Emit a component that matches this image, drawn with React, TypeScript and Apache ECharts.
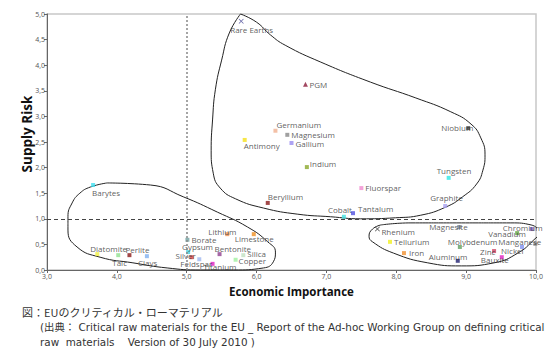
import React, { useEffect, useRef } from "react";
import * as echarts from "echarts";

// ---- data ----
const materials = [
  "Rare Earths", "PGM", "Germanium", "Magnesium", "Gallium", "Antimony", "Indium", "Niobium",
  "Tungsten", "Fluorspar", "Graphite", "Tantalum", "Cobalt", "Beryllium",
  "Barytes", "Diatomite", "Talc", "Perlite", "Clays", "Borate", "Gypsum", "Silver", "Feldspar",
  "Titanium", "Bentonite", "Lithium", "Limestone", "Silica", "Copper",
  "Rhenium", "Tellurium", "Iron", "Aluminum", "Magnesite", "Molybdenum", "Zinc", "Nickel",
  "Bauxite", "Manganese", "Vanadium", "Chromium",
];
const economicImportance = [
  57.8, 67.0, 62.7, 64.4, 65.0, 58.3, 67.2, 90.3,
  87.5, 75.0, 87.0, 73.8, 72.5, 61.6,
  36.6, 37.2, 40.2, 41.8, 44.3, 50.1, 50.2, 50.7, 51.8,
  53.7, 54.7, 55.8, 59.6, 58.1, 57.0,
  77.3, 79.1, 81.1, 88.8, 89.0, 89.1, 94.0, 98.0,
  95.1, 99.9, 97.3, 99.4,
];
const supplyRisk = [
  4.86, 3.63, 2.72, 2.64, 2.48, 2.54, 2.01, 2.77,
  1.80, 1.60, 1.25, 1.11, 1.04, 1.31,
  1.66, 0.31, 0.29, 0.29, 0.27, 0.59, 0.35, 0.25, 0.21,
  0.12, 0.31, 0.70, 0.70, 0.29, 0.20,
  0.80, 0.55, 0.33, 0.18, 0.84, 0.45, 0.37, 0.45,
  0.25, 0.51, 0.72, 0.80,
];

// hand-drawn grouping loops (data coordinates)
const loopCriticalX = [57.7, 60.0, 62.0, 64.1, 69.2, 76.3, 82.8, 87.8, 90.7, 92.1, 92.7, 92.4, 91.5, 89.5, 87.1, 83.5, 79.9, 74.9, 70.6, 65.9, 61.0, 57.0, 54.8, 53.8, 53.5, 53.7, 54.1, 55.0, 56.1, 57.7];
const loopCriticalY = [5.0, 4.84, 4.59, 4.39, 4.06, 3.67, 3.36, 3.09, 2.85, 2.58, 2.25, 1.95, 1.68, 1.43, 1.23, 1.07, 1.02, 1.0, 1.04, 1.09, 1.21, 1.39, 1.6, 1.89, 2.34, 2.93, 3.52, 4.1, 4.63, 5.0];
const loopLowImportanceX = [38.6, 44.8, 49.5, 54.4, 58.7, 61.6, 62.7, 62.4, 61.0, 56.7, 52.0, 47.2, 42.3, 37.6, 34.3, 33.0, 33.0, 33.6, 34.7, 36.2, 38.6];
const loopLowImportanceY = [1.70, 1.66, 1.43, 1.13, 0.84, 0.55, 0.35, 0.16, 0.04, 0.0, 0.0, 0.04, 0.14, 0.25, 0.45, 0.78, 1.04, 1.31, 1.50, 1.62, 1.70];
const loopLowRiskX = [77.8, 82.1, 89.3, 96.4, 99.3, 100.4, 99.7, 97.4, 94.0, 89.3, 84.5, 79.6, 76.6, 76.1, 76.6, 77.8];
const loopLowRiskY = [0.88, 0.92, 0.92, 0.92, 0.88, 0.72, 0.59, 0.33, 0.14, 0.08, 0.14, 0.33, 0.55, 0.66, 0.80, 0.88];

const thresholdEconomic = 50;
const thresholdRisk = 1.0;

const captionTitle = "図：EUのクリティカル・ローマテリアル";
const captionSource1 = "(出典： Critical raw materials for the EU _ Report of the Ad-hoc Working Group on defining critical";
const captionSource2 = "raw  materials    Version of 30 July 2010 )";

// ---- styles ----
const markerColors: Record<string, string> = {
  "Rare Earths": "#3b3b8f", PGM: "#8b1a3a", Germanium: "#f0b090", Magnesium: "#888888",
  Gallium: "#9a8cf0", Antimony: "#f5e01a", Indium: "#8aa82a", Niobium: "#333333",
  Tungsten: "#2ee6e6", Fluorspar: "#f08cd0", Graphite: "#a9a0f0", Tantalum: "#5050e0",
  Cobalt: "#40e0e0", Beryllium: "#8b1a1a", Barytes: "#40e0f0", Diatomite: "#f0f040",
  Talc: "#90e090", Perlite: "#8b1a1a", Clays: "#80b0f0", Borate: "#70a0a0",
  Gypsum: "#40d0e0", Silver: "#e04040", Feldspar: "#a0b8f0", Titanium: "#e020c0",
  Bentonite: "#904090", Lithium: "#f09050", Limestone: "#f09020", Silica: "#c0e0c0",
  Copper: "#a0f0a0", Rhenium: "#222222", Tellurium: "#f0f020", Iron: "#f09030",
  Aluminum: "#202070", Magnesite: "#8090a0", Molybdenum: "#60a060", Zinc: "#d04060",
  Nickel: "#8090f0", Bauxite: "#e020c0", Manganese: "#909090", Vanadium: "#60a040",
  Chromium: "#8060c0",
};
const labelOffsets: Record<string, [number, number]> = {
  "Rare Earths": [-11, 8], PGM: [4, 0], Germanium: [1, -6], Magnesium: [4, 0], Gallium: [4, 0],
  Antimony: [-1, 6], Indium: [3, -4], Niobium: [-27, -1], Tungsten: [-12, -7], Fluorspar: [4, -1],
  Graphite: [-15, -9], Tantalum: [5, -5], Cobalt: [-16, -7], Beryllium: [0, -6],
  Barytes: [-1, 7], Diatomite: [-7, -6], Talc: [-6, 7], Perlite: [-4, -6], Clays: [-9, 6],
  Borate: [4, 0], Gypsum: [-6, -6], Silver: [-16, -2], Feldspar: [-19, 4], Titanium: [-9, 3],
  Bentonite: [-5, -6], Lithium: [-19, -3], Limestone: [-19, 4], Silica: [4, -2], Copper: [3, 1],
  Rhenium: [4, 2], Tellurium: [4, 0], Iron: [5, -1], Aluminum: [-29, -4], Magnesite: [-30, 0],
  Molybdenum: [-12, -5], Zinc: [-14, 0], Nickel: [-21, 4], Bauxite: [-21, 2], Manganese: [-37, -2],
  Vanadium: [-29, 0], Chromium: [-29, -2],
};
const crossPath = "path://M0,1L1,0L5,4L9,0L10,1L6,5L10,9L9,10L5,6L1,10L0,9L4,5Z";
const specialSymbols: Record<string, string> = {
  "Rare Earths": crossPath, Rhenium: crossPath, PGM: "triangle",
};

const fmt = (v: number, div: number) => (v / div).toFixed(1).replace(".", ",");

const zip = (xs: number[], ys: number[]) => xs.map((x, i) => [x, ys[i]]);

export default function App() {
  const ref = useRef<HTMLDivElement>(null);
  useEffect(() => {
    if (!ref.current) return;
    const chart = echarts.init(ref.current, undefined, { renderer: "svg" });
    const labelFont = "'Open Sans', 'Noto Sans', sans-serif";
    const captionFont = "'DejaVu Sans', 'Noto Sans CJK JP', sans-serif";
    const points = materials.map((name, i) => ({
      name,
      value: [economicImportance[i], supplyRisk[i]],
      symbol: specialSymbols[name] || "rect",
      symbolSize: specialSymbols[name] ? 5 : 4,
      itemStyle: { color: markerColors[name] },
      label: {
        show: true,
        position: "inside",
        align: "left",
        verticalAlign: "middle",
        offset: labelOffsets[name] || [4, 0],
        formatter: name,
        color: "#333",
        fontSize: 8,
        fontFamily: labelFont,
      },
    }));
    const loopSeries = (xs: number[], ys: number[]) => ({
      type: "line",
      data: zip(xs, ys),
      smooth: 0.5,
      showSymbol: false,
      symbol: "none",
      clip: false,
      silent: true,
      lineStyle: { color: "#222", width: 1 },
      z: 1,
    });
    chart.setOption({
      animation: false,
      grid: {
        left: 47, right: 24, top: 14, bottom: 84,
        show: true, borderColor: "#c8c8c8", borderWidth: 1.5, backgroundColor: "transparent",
      },
      xAxis: {
        type: "value", min: 30, max: 100, interval: 10,
        name: "Economic Importance", nameLocation: "middle", nameGap: 15, nameMoveOverlap: false,
        nameTextStyle: { fontSize: 11.5, fontWeight: "bold", color: "#111", fontFamily: "'Open Sans', sans-serif" },
        axisLine: { show: true, lineStyle: { color: "#666", width: 1 } },
        axisTick: { show: true, length: 3, lineStyle: { color: "#666" } },
        axisLabel: { fontSize: 7, color: "#555", margin: 3, formatter: (v: number) => fmt(v, 10), fontFamily: labelFont },
        splitLine: { show: false },
      },
      yAxis: {
        type: "value", min: 0, max: 5, interval: 0.5,
        name: "Supply Risk", nameLocation: "middle", nameGap: 13, nameRotate: 90, nameMoveOverlap: false,
        nameTextStyle: { fontSize: 13.5, fontWeight: "bold", color: "#111", fontFamily: "'Open Sans', sans-serif", padding: [0, 0, 0, 16] },
        axisLine: { show: true, lineStyle: { color: "#666", width: 1 } },
        axisTick: { show: true, length: 3, lineStyle: { color: "#666" } },
        axisLabel: { fontSize: 7, color: "#555", margin: 2, formatter: (v: number) => fmt(v, 1), fontFamily: labelFont },
        splitLine: { show: false },
      },
      series: [
        {
          type: "scatter",
          data: points,
          z: 3,
          markLine: {
            silent: true,
            symbol: "none",
            label: { show: false },
            data: [
              { xAxis: thresholdEconomic, lineStyle: { color: "#888", type: [2, 2], width: 1.5 } },
              { yAxis: thresholdRisk, lineStyle: { color: "#444", type: [4, 3], width: 1 } },
            ],
          },
        },
        loopSeries(loopCriticalX, loopCriticalY),
        loopSeries(loopLowImportanceX, loopLowImportanceY),
        loopSeries(loopLowRiskX, loopLowRiskY),
      ],
      graphic: [
        { type: "text", left: 22, top: 306, style: { text: captionTitle, fontSize: 11, fill: "#333", fontFamily: "'Noto Sans CJK JP', sans-serif" } },
        { type: "text", left: 40, top: 322, style: { text: captionSource1, fontSize: 10.4, fill: "#333", fontFamily: captionFont } },
        { type: "text", left: 40, top: 337, style: { text: captionSource2, fontSize: 10.4, fill: "#333", fontFamily: captionFont } },
      ],
    });
    return () => chart.dispose();
  }, []);
  return <div ref={ref} style={{ position: "absolute", left: 0, top: 0, width: 560, height: 354 }} />;
}
